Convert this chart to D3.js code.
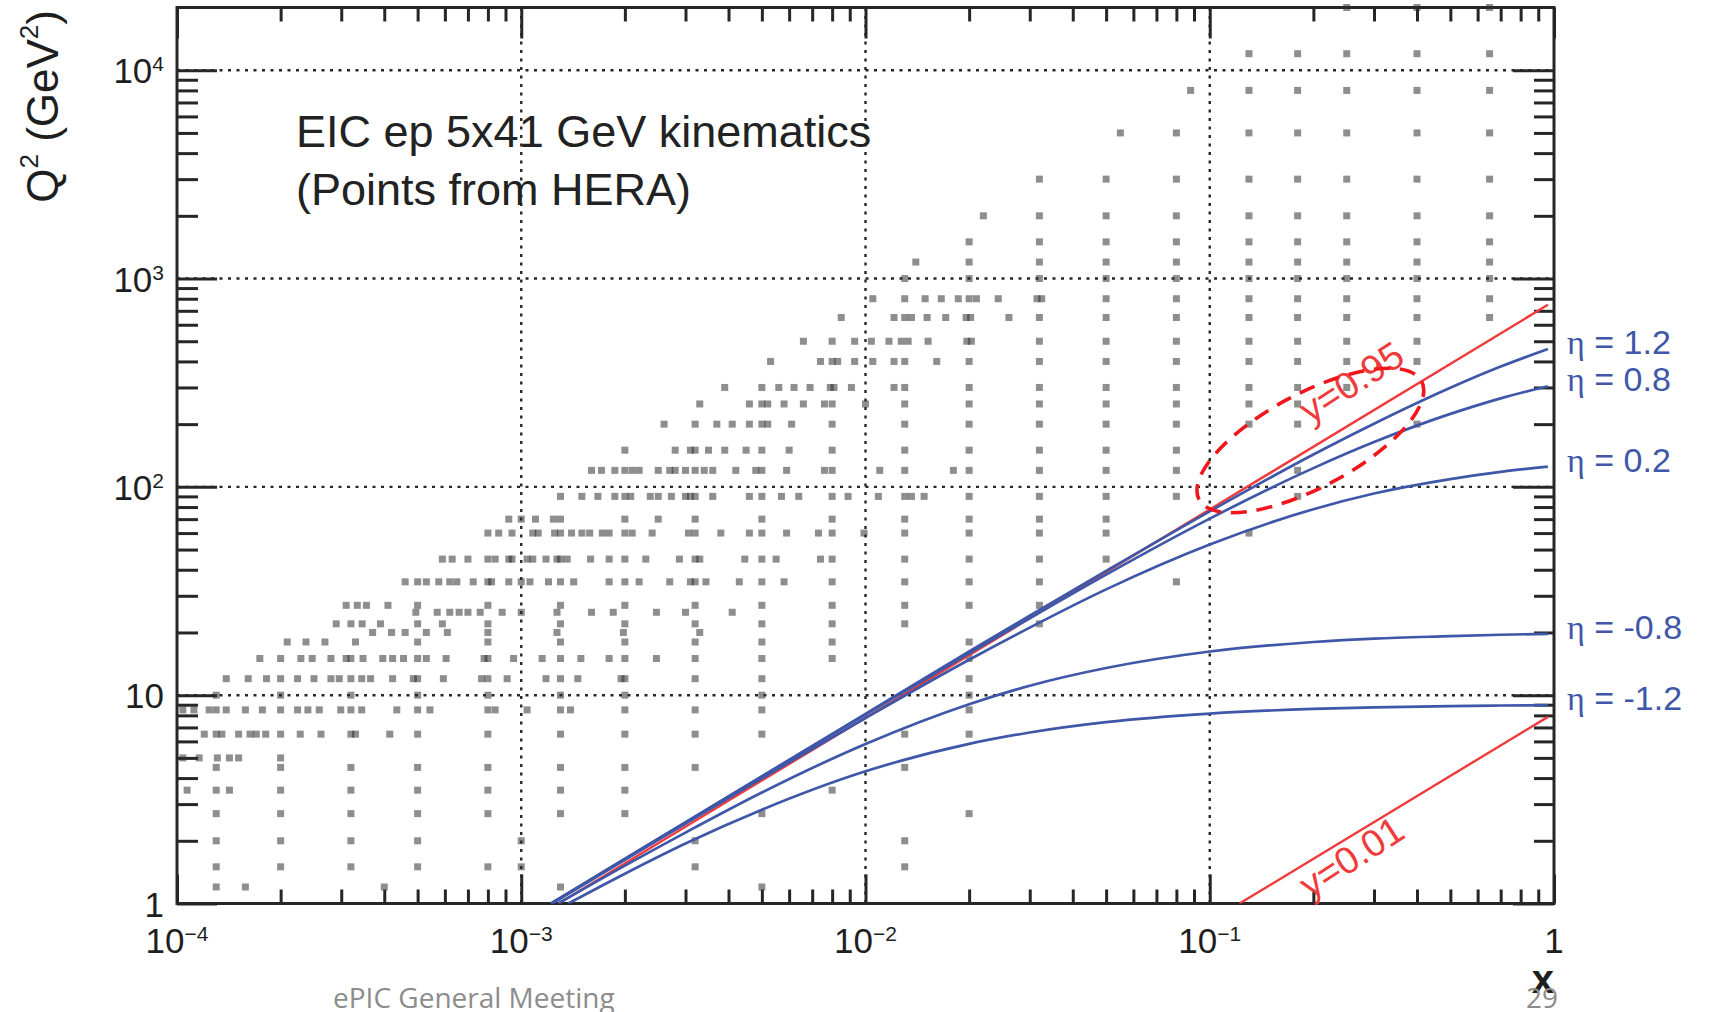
<!DOCTYPE html>
<html>
<head>
<meta charset="utf-8">
<script src="https://cdn.jsdelivr.net/npm/d3@7"></script>
<style>
  html, body { margin: 0; padding: 0; background: #ffffff; }
  svg { display: block; }
</style>
</head>
<body>
<svg id="chart" width="1711" height="1012"></svg>
<script>
// ---------------------------------------------------------------
// HERA measurement points: [Q² bin, list of x values in that bin]
// ---------------------------------------------------------------
const heraLowQ2 = [
  [1.2, [1.3e-4, 1.58e-4, 4.0e-4, 1.3e-3, 5e-3]],
  [1.5, [1.3e-4, 2e-4, 3.2e-4, 5e-4, 8e-4, 1e-3, 3.2e-3, 0.013]],
  [2.0, [1.3e-4, 2e-4, 3.2e-4, 5e-4, 1e-3, 3.2e-3, 0.013]],
  [2.7, [1.3e-4, 2e-4, 3.2e-4, 5e-4, 8e-4, 1.3e-3, 2e-3, 5e-3, 0.02]],
  [3.5, [1.07e-4, 1.3e-4, 1.42e-4, 2e-4, 3.2e-4, 5e-4, 8e-4, 1.3e-3, 2e-3, 8e-3]],
  [4.5, [1.3e-4, 2e-4, 3.2e-4, 5e-4, 8e-4, 1.3e-3, 2e-3, 3.2e-3, 0.013]],
  [5.0, [1.04e-4, 1.16e-4, 1.31e-4, 1.42e-4, 1.51e-4, 2.0e-4]],
  [6.5, [1.2e-4, 1.3e-4, 1.35e-4, 1.51e-4, 1.63e-4, 1.7e-4, 1.81e-4, 2e-4, 2.28e-4, 2.62e-4,
         3.2e-4, 3.3e-4, 4.15e-4, 5e-4, 8e-4, 1.3e-3, 2e-3, 3.2e-3, 5e-3, 0.013, 0.02]],
  [8.5, [1.04e-4, 1.12e-4, 1.24e-4, 1.3e-4, 1.39e-4, 1.58e-4, 1.77e-4, 2e-4, 2.24e-4, 2.4e-4,
         2.59e-4, 2.99e-4, 3.2e-4, 3.44e-4, 4.35e-4, 5e-4, 5.43e-4, 8e-4, 8.4e-4, 1.04e-3,
         1.3e-3, 1.39e-3, 2e-3, 3.2e-3, 5e-3, 0.02]],
  [10, [1.3e-4, 2e-4, 3.2e-4, 5e-4, 8e-4, 1.3e-3, 2e-3, 5e-3, 0.02]]
];

const heraMidQ2 = [
  [12, [1.39e-4, 1.61e-4, 1.82e-4, 2e-4, 2.24e-4, 2.5e-4, 2.8e-4, 2.96e-4, 3.2e-4, 3.44e-4,
        3.65e-4, 4.23e-4, 4.86e-4, 5e-4, 5.94e-4, 7.67e-4, 8e-4, 9.1e-4, 1.18e-3, 1.3e-3,
        1.46e-3, 1.95e-3, 2e-3, 3.2e-3, 5e-3, 0.02]],
  [15, [1.74e-4, 2e-4, 2.29e-4, 2.47e-4, 2.8e-4, 3.1e-4, 3.2e-4, 3.47e-4, 3.96e-4, 4.23e-4,
        4.55e-4, 5e-4, 5.3e-4, 6.05e-4, 7.8e-4, 8e-4, 9.5e-4, 1.15e-3, 1.3e-3, 1.49e-3,
        1.8e-3, 2e-3, 2.47e-3, 3.2e-3, 5e-3, 8e-3, 0.02]],
  [18, [2.09e-4, 2.37e-4, 2.69e-4, 3.3e-4, 5e-4, 8e-4, 1.3e-3, 2e-3, 3.2e-3, 5e-3, 8e-3, 0.02]],
  [20, [3.7e-4, 4.2e-4, 4.6e-4, 5.3e-4, 6.1e-4, 8e-4, 1.27e-3, 1.98e-3, 3.3e-3]],
  [22, [2.9e-4, 3.2e-4, 3.45e-4, 3.9e-4, 5e-4, 5.9e-4, 8e-4, 1.3e-3, 2e-3, 3.2e-3, 5e-3,
        8e-3, 0.013, 0.032]],
  [25, [4.94e-4, 5.7e-4, 6.2e-4, 6.6e-4, 7e-4, 7.6e-4, 8.8e-4, 1e-3, 1.27e-3, 1.6e-3,
        1.85e-3, 2.47e-3, 3e-3, 4.1e-3]],
  [27, [3.1e-4, 3.34e-4, 3.55e-4, 4.1e-4, 5e-4, 8e-4, 1.3e-3, 2e-3, 3.2e-3, 5e-3, 8e-3,
        0.013, 0.02, 0.032]],
  [35, [4.6e-4, 5e-4, 5.3e-4, 5.76e-4, 6.2e-4, 6.5e-4, 7.25e-4, 8e-4, 8.2e-4, 9.2e-4, 1e-3,
        1.06e-3, 1.2e-3, 1.3e-3, 1.42e-3, 1.8e-3, 2e-3, 2.2e-3, 2.7e-3, 3.1e-3, 3.2e-3,
        3.44e-3, 4.3e-3, 5e-3, 5.8e-3, 8e-3, 0.013, 0.02, 0.032, 0.08]],
  [45, [5.9e-4, 6.3e-4, 7e-4, 8e-4, 8.4e-4, 9.2e-4, 9.4e-4, 1.04e-3, 1.08e-3, 1.18e-3,
        1.27e-3, 1.3e-3, 1.36e-3, 1.59e-3, 1.8e-3, 2e-3, 2.3e-3, 2.88e-3, 3.2e-3, 3.3e-3,
        4.46e-3, 5e-3, 5.5e-3, 7.4e-3, 8e-3, 0.013, 0.02, 0.032, 0.05]],
  [60, [8e-4, 8.6e-4, 9.4e-4, 1.08e-3, 1.12e-3, 1.25e-3, 1.3e-3, 1.4e-3, 1.5e-3, 1.58e-3,
        1.72e-3, 1.8e-3, 2e-3, 2.1e-3, 2.4e-3, 3.06e-3, 3.2e-3, 3.8e-3, 4.6e-3, 5e-3,
        5.9e-3, 7.3e-3, 8e-3, 9.9e-3, 0.013, 0.02, 0.032, 0.05, 0.13]],
  [70, [9.2e-4, 1e-3, 1.1e-3, 1.24e-3, 1.3e-3, 2e-3, 2.5e-3, 3.2e-3, 5e-3, 8e-3, 0.013,
        0.02, 0.032, 0.05]],
  [90, [1.3e-3, 1.5e-3, 1.67e-3, 1.87e-3, 2e-3, 2.08e-3, 2.37e-3, 2.5e-3, 2.73e-3, 3e-3,
        3.1e-3, 3.2e-3, 3.6e-3, 4.6e-3, 5e-3, 5.7e-3, 6.4e-3, 8e-3, 8.9e-3, 0.0109, 0.013,
        0.0136, 0.0148, 0.02, 0.032, 0.05, 0.08, 0.18]]
];

const heraHighQ2 = [
  [120, [1.6e-3, 1.71e-3, 1.87e-3, 2e-3, 2.1e-3, 2.2e-3, 2.5e-3, 2.7e-3, 2.8e-3, 3e-3,
         3.2e-3, 3.4e-3, 3.6e-3, 4.2e-3, 4.8e-3, 5e-3, 5.9e-3, 7.6e-3, 8e-3, 0.011, 0.013,
         0.018, 0.02, 0.032, 0.05, 0.08, 0.18]],
  [150, [2e-3, 2.8e-3, 3.1e-3, 3.2e-3, 3.5e-3, 3.9e-3, 4.5e-3, 5e-3, 6e-3, 8e-3, 0.013,
         0.02, 0.032, 0.05, 0.08]],
  [200, [2.6e-3, 3.2e-3, 3.7e-3, 4.1e-3, 4.6e-3, 5e-3, 5.2e-3, 6.1e-3, 8e-3, 0.013, 0.02,
         0.032, 0.05, 0.08, 0.13, 0.18, 0.4]],
  [250, [3.3e-3, 4.6e-3, 5e-3, 5.2e-3, 5.8e-3, 6.6e-3, 7.6e-3, 8e-3, 0.01, 0.013, 0.02,
         0.032, 0.05, 0.08, 0.13, 0.18]],
  [300, [3.9e-3, 5e-3, 5.6e-3, 6.2e-3, 6.9e-3, 7.9e-3, 8.1e-3, 9.1e-3, 0.0121, 0.013, 0.02,
         0.032, 0.05, 0.08, 0.13, 0.18, 0.25]],
  [400, [5.3e-3, 7.4e-3, 8e-3, 8.3e-3, 9.3e-3, 0.0105, 0.0121, 0.013, 0.0161, 0.02, 0.032,
         0.05, 0.08, 0.13, 0.18, 0.25, 0.4]],
  [500, [6.6e-3, 8e-3, 9.3e-3, 0.0104, 0.0117, 0.0127, 0.0133, 0.0152, 0.0197, 0.0203,
         0.032, 0.05, 0.08, 0.13, 0.18, 0.25, 0.4]],
  [650, [8.5e-3, 0.0121, 0.013, 0.0136, 0.0151, 0.0171, 0.0196, 0.0202, 0.0261, 0.032,
         0.05, 0.08, 0.13, 0.18, 0.25, 0.4, 0.65]],
  [800, [0.0105, 0.013, 0.0149, 0.0166, 0.0186, 0.02, 0.021, 0.0243, 0.0315, 0.0325,
         0.05, 0.08, 0.13, 0.18, 0.25, 0.4, 0.65]],
  [1000, [0.013, 0.02, 0.032, 0.05, 0.08, 0.13, 0.18, 0.25, 0.4, 0.65]],
  [1200, [0.014, 0.02, 0.032, 0.05, 0.08, 0.13, 0.18, 0.25, 0.4, 0.65]],
  [1500, [0.02, 0.032, 0.05, 0.08, 0.13, 0.18, 0.25, 0.4, 0.65]],
  [2000, [0.022, 0.032, 0.05, 0.08, 0.13, 0.18, 0.25, 0.4, 0.65]],
  [3000, [0.032, 0.05, 0.08, 0.13, 0.18, 0.25, 0.4, 0.65]],
  [5000, [0.055, 0.08, 0.13, 0.18, 0.25, 0.4, 0.65]],
  [8000, [0.088, 0.13, 0.18, 0.25, 0.4, 0.65]],
  [12000, [0.13, 0.18, 0.25, 0.4, 0.65]],
  [20000, [0.25, 0.4, 0.65]]
];

// ---------------------------------------------------------------
// Scattered-electron pseudorapidity curves, [x, Q²] samples
// ---------------------------------------------------------------
const etaCurveP12 = [[1.22e-3, 1.0], [2e-3, 1.64], [3e-3, 2.45], [5e-3, 4.08], [0.01, 8.14],
  [0.02, 16.2], [0.03, 24.1], [0.05, 39.5], [0.1, 76.3], [0.2, 143], [0.3, 201], [0.5, 299],
  [0.7, 378], [0.96, 459]];
const etaCurveP08 = [[1.22e-3, 1.0], [2e-3, 1.63], [3e-3, 2.45], [5e-3, 4.07], [0.01, 8.07],
  [0.02, 15.9], [0.03, 23.4], [0.05, 37.9], [0.1, 70.4], [0.2, 123], [0.3, 164], [0.5, 224],
  [0.7, 266], [0.96, 304]];
const etaCurveP02 = [[1.23e-3, 1.0], [2e-3, 1.62], [3e-3, 2.42], [5e-3, 3.99], [0.01, 7.77],
  [0.02, 14.8], [0.03, 21.1], [0.05, 32.2], [0.1, 52.9], [0.2, 78.1], [0.3, 92.9], [0.5, 109],
  [0.7, 118], [0.96, 125]];
const etaCurveM08 = [[1.28e-3, 1.0], [2e-3, 1.52], [3e-3, 2.19], [5e-3, 3.41], [0.01, 5.83],
  [0.02, 9.05], [0.03, 11.1], [0.05, 13.5], [0.1, 16.2], [0.2, 18.0], [0.3, 18.7], [0.5, 19.2],
  [0.7, 19.5], [0.96, 19.7]];
const etaCurveM12 = [[1.37e-3, 1.0], [2e-3, 1.39], [3e-3, 1.94], [5e-3, 2.82], [0.01, 4.31],
  [0.02, 5.84], [0.03, 6.62], [0.05, 7.42], [0.1, 8.16], [0.2, 8.59], [0.3, 8.74], [0.5, 8.87],
  [0.7, 8.92], [0.96, 8.96]];
const etaValues = ["1.2", "0.8", "0.2", "-0.8", "-1.2"];

// Constant-inelasticity lines, [x, Q²] end points
const inelasticityHigh = [[1.284e-3, 1.0], [0.96, 748]];   // y = 0.95
const inelasticityLow = [[0.122, 1.0], [0.96, 7.87]];      // y = 0.01

// Axis decades and their labels: [mantissa, exponent]
const xDecades = [1e-4, 1e-3, 1e-2, 1e-1, 1];
const xDecadeLabels = [["10", "−4"], ["10", "−3"], ["10", "−2"], ["10", "−1"], ["1", ""]];
const yDecades = [1, 10, 100, 1000, 10000];
const yDecadeLabels = [["1", ""], ["10", ""], ["10", "2"], ["10", "3"], ["10", "4"]];

// ---------------------------------------------------------------
// Layout
// ---------------------------------------------------------------
const FONT = "'Liberation Sans', Arial, Helvetica, sans-serif";
const INK = "#262626";
const BLUE = "#3f57a8";
const RED = "#ef3b3b";
const L = 177, R = 1554, T = 7.5, B = 903.5;

const x = d3.scaleLog().domain([1e-4, 1]).range([L, R]);
const y = d3.scaleLog().domain([1, 2e4]).range([B, T]);

const svg = d3.select("#chart").attr("font-family", FONT);

const isDecade = v => Math.abs(Math.log10(v) - Math.round(Math.log10(v))) < 1e-9;
const xMinor = x.ticks().filter(v => !isDecade(v));
const yMinor = y.ticks().filter(v => !isDecade(v) && v < 2e4);

// Dotted grid at the decades
const grid = svg.append("g")
  .attr("stroke", INK).attr("stroke-width", 2.4).attr("stroke-dasharray", "3 5.5");
grid.selectAll("line.gx").data(xDecades.filter(v => v > 1e-4 && v < 1)).join("line")
  .attr("x1", d => x(d)).attr("x2", d => x(d)).attr("y1", T).attr("y2", B);
grid.selectAll("line.gy").data(yDecades.filter(v => v > 1)).join("line")
  .attr("y1", d => y(d)).attr("y2", d => y(d)).attr("x1", L).attr("x2", R);

// Tick marks on all four sides, pointing into the frame
function ticks(axisFn, scale, values, size, tx, ty) {
  svg.append("g")
    .attr("transform", `translate(${tx},${ty})`)
    .attr("color", INK)
    .call(axisFn(scale).tickValues(values).tickSize(size).tickSizeOuter(0).tickFormat(""))
    .call(g => g.select(".domain").remove())
    .call(g => g.selectAll("line").attr("stroke-width", 3));
}
ticks(d3.axisBottom, x, xDecades, -29, 0, B);
ticks(d3.axisBottom, x, xMinor, -14, 0, B);
ticks(d3.axisTop, x, xDecades, -31, 0, T);
ticks(d3.axisTop, x, xMinor, -14, 0, T);
ticks(d3.axisLeft, y, yDecades, -40, L, 0);
ticks(d3.axisLeft, y, yMinor, -21, L, 0);
ticks(d3.axisRight, y, yDecades, -41, R, 0);
ticks(d3.axisRight, y, yMinor, -20, R, 0);

// Frame
svg.append("rect")
  .attr("x", L).attr("y", T).attr("width", R - L).attr("height", B - T)
  .attr("fill", "none").attr("stroke", INK).attr("stroke-width", 3);

// HERA points
const heraPoints = [...heraLowQ2, ...heraMidQ2, ...heraHighQ2]
  .flatMap(([q2, xs]) => xs.map(v => ({ x: v, q2 })));
svg.append("g").selectAll("rect").data(heraPoints).join("rect")
  .attr("x", d => x(d.x) - 3.5).attr("y", d => y(d.q2) - 3.5)
  .attr("width", 7).attr("height", 7)
  .attr("fill", "#2e2e2e").attr("fill-opacity", 0.54);

// Curves, clipped to the frame
svg.append("clipPath").attr("id", "plotArea")
  .append("rect").attr("x", L).attr("y", T).attr("width", R - L).attr("height", B - T);
const curves = svg.append("g").attr("clip-path", "url(#plotArea)").attr("fill", "none");
const straight = d3.line().x(d => x(d[0])).y(d => y(d[1]));
const smooth = d3.line().x(d => x(d[0])).y(d => y(d[1])).curve(d3.curveMonotoneX);

[inelasticityHigh, inelasticityLow].forEach(pts => {
  curves.append("path").attr("d", straight(pts))
    .attr("stroke", RED).attr("stroke-width", 2.4);
});
const etaCurves = [etaCurveP12, etaCurveP08, etaCurveP02, etaCurveM08, etaCurveM12];
etaCurves.forEach(pts => {
  curves.append("path").attr("d", smooth(pts))
    .attr("stroke", BLUE).attr("stroke-width", 2.7);
});

// Pseudorapidity labels at the right-hand end of each curve
etaCurves.forEach((pts, i) => {
  const end = pts[pts.length - 1];
  const t = svg.append("text")
    .attr("x", 1567).attr("y", y(end[1]) + 5)
    .attr("font-size", 34).attr("fill", BLUE);
  t.append("tspan").attr("font-family", "'Liberation Serif', 'Times New Roman', serif")
    .attr("font-size", 34).text("η");
  t.append("tspan").text(" = " + etaValues[i]);
});

// Inelasticity labels, set along their lines
function slantLabel(xv, qv, text) {
  svg.append("text")
    .attr("transform", `translate(${x(xv)},${y(qv)}) rotate(-33)`)
    .attr("font-size", 38).attr("fill", RED)
    .text(text);
}
slantLabel(0.196, 199, "y=0.95");
slantLabel(0.196, 1.045, "y=0.01");

// Dashed ellipse around the high-y region
svg.append("ellipse")
  .attr("transform", `translate(${x(0.196)},${y(167)}) rotate(-28)`)
  .attr("rx", 126).attr("ry", 47)
  .attr("fill", "none").attr("stroke", "#f0161c")
  .attr("stroke-width", 3.6).attr("stroke-dasharray", "16 10");

// Tick labels with superscript exponents
function powerLabel(g, px, py, anchor, parts) {
  const t = g.append("text")
    .attr("x", px).attr("y", py).attr("text-anchor", anchor)
    .attr("font-size", 35).attr("fill", "#1e1e1e");
  t.append("tspan").text(parts[0]);
  if (parts[1]) t.append("tspan").attr("font-size", 21).attr("dy", -12).text(parts[1]);
}
const labels = svg.append("g");
xDecades.forEach((v, i) => powerLabel(labels, x(v), B + 49.5, "middle", xDecadeLabels[i]));
yDecades.forEach((v, i) => powerLabel(labels, 164, y(v) + 13, "end", yDecadeLabels[i]));

// Axis titles
const yTitle = svg.append("text")
  .attr("transform", "translate(58,10) rotate(-90)")
  .attr("text-anchor", "end").attr("font-size", 44).attr("fill", "#1e1e1e");
yTitle.append("tspan").text("Q");
yTitle.append("tspan").attr("font-size", 26).attr("dy", -20).text("2");
yTitle.append("tspan").attr("dy", 20).text(" (GeV");
yTitle.append("tspan").attr("font-size", 26).attr("dy", -20).text("2");
yTitle.append("tspan").attr("dy", 20).text(")");

svg.append("text")
  .attr("x", R).attr("y", 993).attr("text-anchor", "end")
  .attr("font-size", 40).attr("font-weight", "bold").attr("fill", "#1e1e1e")
  .text("x");

// In-plot caption
svg.append("text").attr("x", 296).attr("y", 147)
  .attr("font-size", 45).attr("fill", "#222")
  .text("EIC ep 5x41 GeV kinematics");
svg.append("text").attr("x", 296).attr("y", 205)
  .attr("font-size", 45).attr("fill", "#222")
  .text("(Points from HERA)");

// Slide footer
svg.append("text").attr("x", 333).attr("y", 1008)
  .attr("font-family", "'Open Sans', 'Noto Sans', sans-serif")
  .attr("font-size", 28).attr("fill", "#8c8c8c")
  .text("ePIC General Meeting");
svg.append("text").attr("x", 1558).attr("y", 1008).attr("text-anchor", "end")
  .attr("font-family", "'Open Sans', 'Noto Sans', sans-serif")
  .attr("font-size", 28).attr("fill", "#8c8c8c")
  .text("29");
</script>
</body>
</html>
